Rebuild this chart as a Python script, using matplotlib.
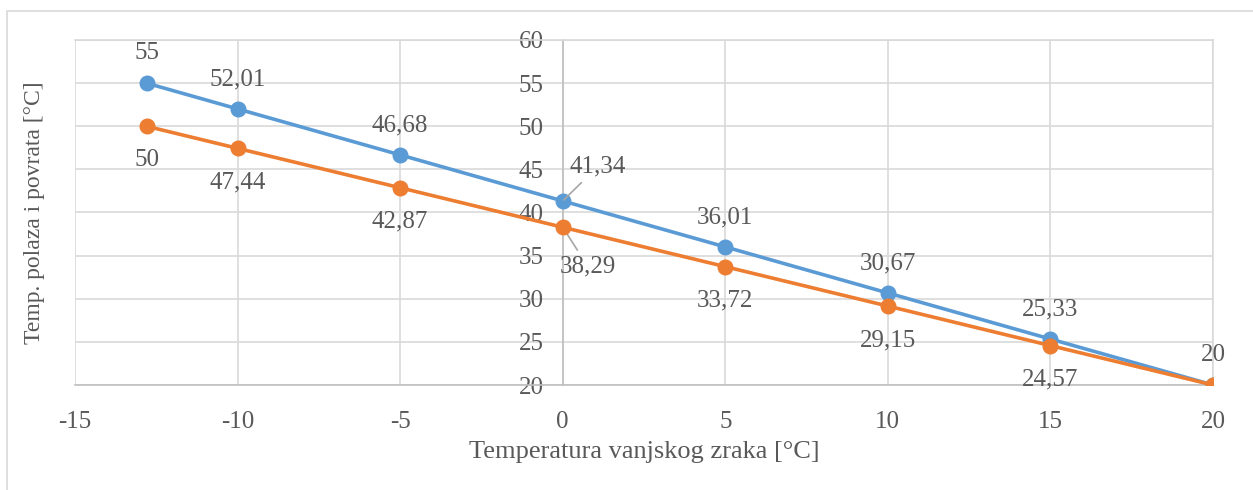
import matplotlib.pyplot as plt
from matplotlib.patches import Rectangle

plt.rcParams['font.family'] = ['Liberation Serif', 'DejaVu Serif']
plt.rcParams['axes.unicode_minus'] = False

t_out = [-12.8, -10, -5, 0, 5, 10, 15, 20]
t_supply = [55, 52.01, 46.68, 41.34, 36.01, 30.67, 25.33, 20]
t_return = [50, 47.44, 42.87, 38.29, 33.72, 29.15, 24.57, 20]

blue = "#5B9BD5"
orange = "#ED7D31"
txt = "#595959"
grid = "#D9D9D9"
fs = 18

fig = plt.figure(figsize=(12.53, 4.9), dpi=100)
ax = fig.add_axes([75 / 1253, 105 / 490, 1138 / 1253, 345 / 490])

# outer chart frame
fig.patches.append(Rectangle((7 / 1253, -0.1), 1.2, 1.1 - 11 / 490,
                             transform=fig.transFigure, fill=False,
                             edgecolor=grid, linewidth=1.2, zorder=0))

ax.plot(t_out, t_supply, color=blue, lw=2.6, marker="o", ms=10.5, zorder=3)
ax.plot(t_out, t_return, color=orange, lw=2.6, marker="o", ms=10.5, zorder=4)

ax.set_xlim(-15, 20)
ax.set_ylim(20, 60)
ax.set_xticks(range(-15, 21, 5))
ax.set_yticks(range(20, 61, 5))
ax.grid(True, color=grid, lw=1.2, zorder=0)
ax.set_axisbelow(True)

for s in ["top", "right", "bottom"]:
    ax.spines[s].set_color(grid)
    ax.spines[s].set_linewidth(1.2)
ax.spines["left"].set_position(("data", 0))
ax.spines["left"].set_color("#BFBFBF")
ax.spines["left"].set_linewidth(1.2)
ax.spines["bottom"].set_color("#BFBFBF")

ax.tick_params(axis="both", length=0, labelsize=fs, labelcolor=txt)
ax.tick_params(axis="x", pad=19)
ax.tick_params(axis="y", pad=13.5)

ax.set_xlabel("Temperatura vanjskog zraka [°C]", fontsize=19, color=txt, va="center")
ax.xaxis.set_label_coords(0.5, -0.194)
ax.set_ylabel("Temp. polaza i povrata [°C]", fontsize=17, color=txt, va="center")
ax.yaxis.set_label_coords(-0.036, 0.5)


def fmt(v):
    return ("%g" % v).replace(".", ",")


for x, y in zip(t_out, t_supply):
    if x == 0:
        ax.annotate(fmt(y), (x, y), xytext=(25, 24.5), textcoords="offset points",
                    ha="center", va="center", fontsize=fs, color=txt,
                    arrowprops=dict(arrowstyle="-", color="#A6A6A6", lw=1.2,
                                    shrinkA=2, shrinkB=1))
    else:
        ax.annotate(fmt(y), (x, y), xytext=(0, 21.5), textcoords="offset points",
                    ha="center", va="center", fontsize=fs, color=txt)

for x, y in zip(t_out, t_return):
    if x == 20:
        continue
    if x == 0:
        ax.annotate(fmt(y), (x, y), xytext=(18, -28), textcoords="offset points",
                    ha="center", va="center", fontsize=fs, color=txt,
                    arrowprops=dict(arrowstyle="-", color="#A6A6A6", lw=1.2,
                                    shrinkA=2, shrinkB=1))
    else:
        ax.annotate(fmt(y), (x, y), xytext=(0, -24.5), textcoords="offset points",
                    ha="center", va="center", fontsize=fs, color=txt)

fig.savefig("out.png", dpi=100)
